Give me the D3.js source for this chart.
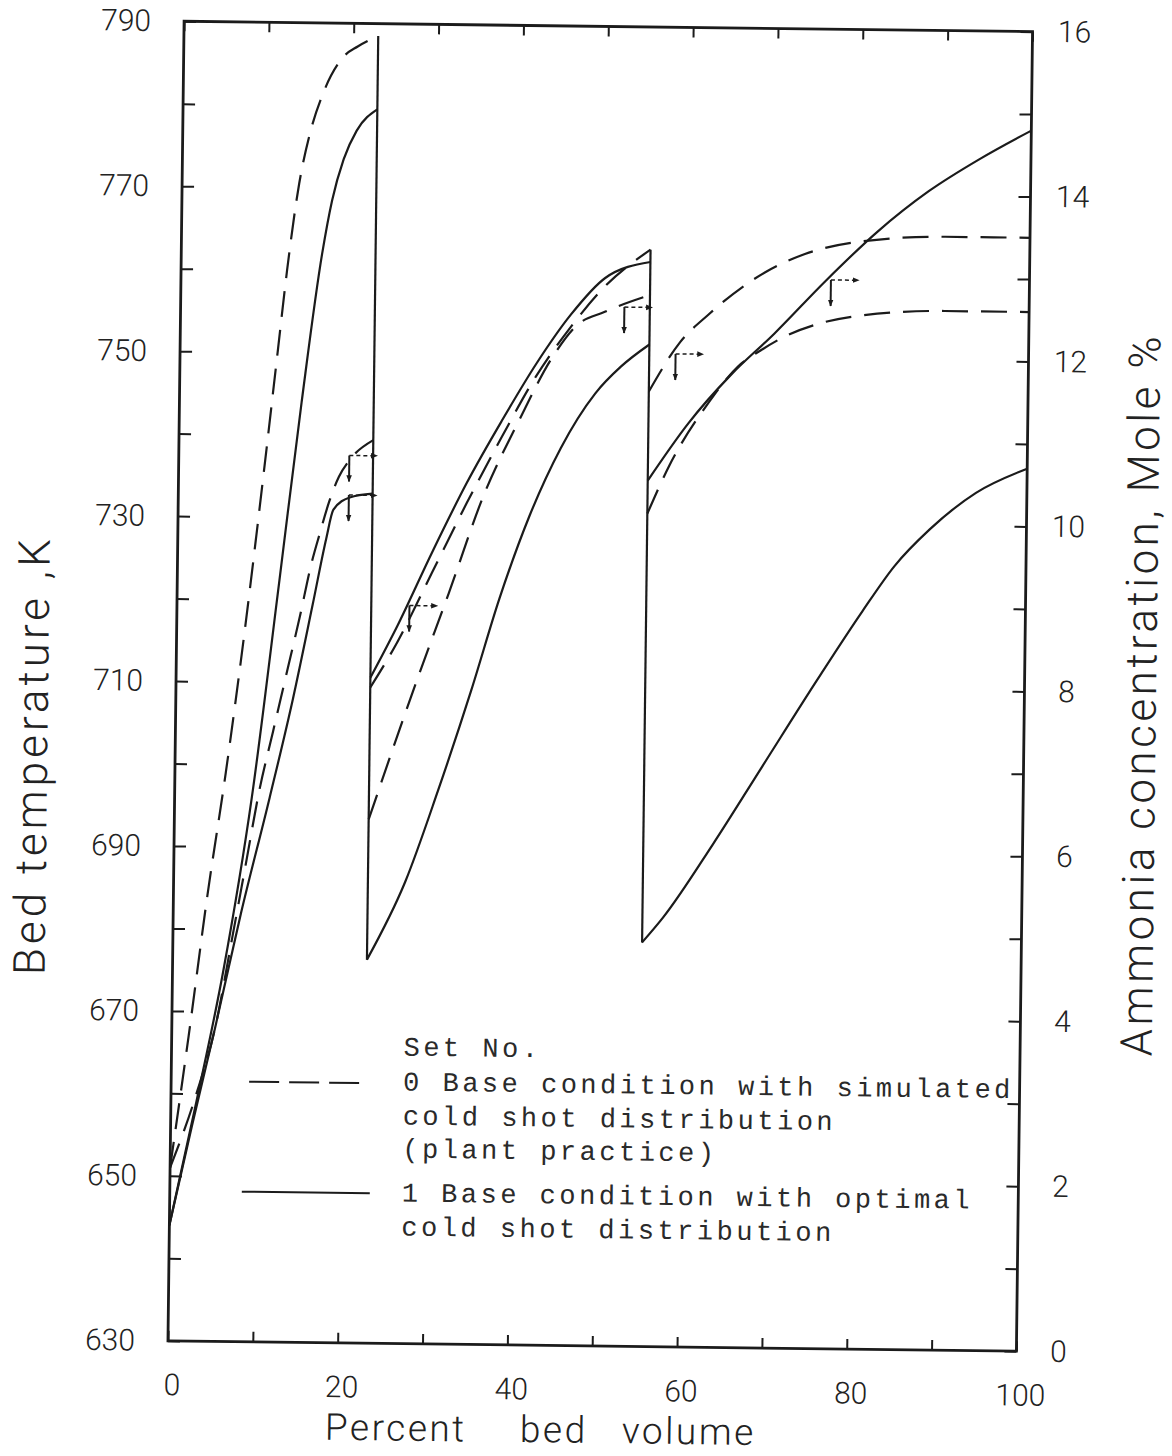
<!DOCTYPE html>
<html>
<head>
<meta charset="utf-8">
<script src="https://cdn.jsdelivr.net/npm/d3@7"></script>
<style>
  body { margin: 0; background: #fff; }
</style>
</head>
<body>
<svg id="chart" width="1172" height="1456"></svg>
<script>
// ---- data ----
// x = percent bed volume, temperature in K (left axis), concentration in mole % (right axis)
var bedEdges = [22.9, 55.3];

var xTicks = [0, 10, 20, 30, 40, 50, 60, 70, 80, 90, 100];
var tempTicks = d3.range(630, 791, 10);
var concTicks = d3.range(0, 17, 1);

// set 0 (plant practice) - dashed
var temp0Bed1 = [[0,651],[2,667],[4,684],[6,699],[8,716],[10,735],[11.5,750],[12.5,760],[13.8,770.5],[15,776.6],[16.5,781.5],[18.9,786],[20.5,787.2],[22.9,788.5]];
var temp0Bed2 = [[22.9,693.5],[28.5,710.8],[32,721],[36,733],[40,742],[44,750],[46.6,753.6],[50,755.4],[55.3,757.5]];
var temp0Bed3 = [[55.3,731],[57.8,736.8],[62.4,744.6],[65.8,749],[68.5,751],[71.3,752.7],[75,754.2],[80,755.3],[90,756],[100,756]];
var conc0Bed1 = [[0,2.1],[3,3.0],[5.1,3.8],[7,4.9],[8.5,5.8],[10,6.7],[11.5,7.4],[13,8.1],[14.5,8.8],[15.8,9.45],[16.7,9.8],[17.8,10.2],[18.9,10.5],[20.1,10.7],[22.9,10.95]];
var conc0Bed2 = [[22.9,7.95],[26,8.5],[30,9.35],[34,10.2],[38,11.0],[42,11.75],[46,12.35],[50,12.85],[55.3,13.3]];
var conc0Bed3 = [[55.3,11.58],[58.9,12.18],[62.2,12.52],[68.8,13.04],[73.5,13.27],[80,13.43],[90,13.5],[100,13.5]];

// set 1 (optimal) - solid
var temp1Bed1 = [[0,644],[3,659],[6,675],[9.1,696],[12,722],[14.4,744],[16.6,762],[17.7,768.5],[19,773.5],[20.5,777],[22.9,779.6]];
var temp1Bed2 = [[22.9,676.5],[27.3,686],[31,697],[34.8,709.3],[38,720.5],[41.4,730.5],[45,738.8],[49,745.5],[52,748.8],[55.3,751.5]];
var temp1Bed3 = [[55.3,679],[57.7,682],[63.5,691],[69.2,700.5],[75.5,711],[80.8,719.5],[84.5,725],[88.6,729.5],[94,734],[100,737]];
var conc1Bed1 = [[0,1.4],[2.5,2.6],[5.1,3.8],[8,5.2],[11.2,6.6],[13.8,7.8],[16,8.95],[17.5,9.75],[18.3,10.1],[20.2,10.25],[22.9,10.3]];
var conc1Bed2 = [[22.9,8.07],[26,8.7],[30,9.6],[34,10.45],[38,11.2],[42,11.9],[46,12.5],[50,12.95],[55.3,13.15]];
var conc1Bed3 = [[55.3,10.5],[60,11.2],[65,11.8],[70,12.3],[76,12.95],[82,13.55],[88,14.05],[94,14.45],[100,14.8]];

// little arrow marks drawn on the figure (x %, temperature K)
var arrowMarks = [[20.1,737.6],[20.1,732.8],[27.4,719.5],[52.3,756],[58.4,750.4],[76.6,759.6]];

var legendLines = [
  "Set No.",
  "0 Base condition with simulated",
  "cold shot distribution",
  "(plant practice)",
  "1 Base condition with optimal",
  "cold shot distribution"
];

// ---- layout ----
var frame = {left: 176, right: 1024.5, top: 26.4, bottom: 1346};
var tickFont = "Roboto, 'DejaVu Sans', sans-serif";
var ink = "#1b1b1b";

var svg = d3.select("#chart");
var defs = svg.append("defs");
defs.append("marker")
    .attr("id", "ah")
    .attr("viewBox", "0 0 10 10")
    .attr("refX", 9).attr("refY", 5)
    .attr("markerWidth", 7).attr("markerHeight", 7)
    .attr("markerUnits", "userSpaceOnUse")
    .attr("orient", "auto")
  .append("path")
    .attr("d", "M0,1 L10,5 L0,9 z")
    .attr("fill", ink);

// the scanned page is turned a little clockwise
var g = svg.append("g").attr("transform", "rotate(0.7,600,686)");

var x = d3.scaleLinear().domain([0, 100]).range([frame.left, frame.right]);
var yT = d3.scaleLinear().domain([630, 790]).range([frame.bottom, frame.top]);
var yC = d3.scaleLinear().domain([0, 16]).range([frame.bottom, frame.top]);

function styleAxis(sel){
  sel.select(".domain").remove();
  sel.selectAll(".tick line").attr("stroke", ink).attr("stroke-width", 2);
  sel.selectAll("text")
    .attr("font-family", tickFont)
    .attr("font-weight", 300)
    .attr("font-size", 30)
    .attr("fill", "#222");
}

// bottom axis
g.append("g")
  .attr("transform", "translate(0," + frame.bottom + ")")
  .call(d3.axisBottom(x).tickValues(xTicks).tickSize(-10).tickSizeOuter(0).tickPadding(33)
        .tickFormat(function(d){ return d % 20 ? "" : d; }))
  .call(styleAxis)
  .selectAll("text").attr("dx", 4);

// top axis (ticks only)
g.append("g")
  .attr("transform", "translate(0," + frame.top + ")")
  .call(d3.axisTop(x).tickValues(xTicks).tickSize(-10).tickSizeOuter(0).tickFormat(""))
  .call(styleAxis);

// left axis
g.append("g")
  .attr("transform", "translate(" + frame.left + ",0)")
  .call(d3.axisLeft(yT).tickValues(tempTicks).tickSize(-12).tickSizeOuter(0).tickPadding(33)
        .tickFormat(function(d){ return (d - 630) % 20 ? "" : d; }))
  .call(styleAxis);

// right axis
g.append("g")
  .attr("transform", "translate(" + frame.right + ",0)")
  .call(d3.axisRight(yC).tickValues(concTicks).tickSize(-12).tickSizeOuter(0)
        .tickFormat(function(d){ return d % 2 ? "" : d; }))
  .call(styleAxis)
  .selectAll("text").attr("x", 42).attr("text-anchor", "middle");

// frame
g.append("rect")
  .attr("x", frame.left).attr("y", frame.top)
  .attr("width", frame.right - frame.left).attr("height", frame.bottom - frame.top)
  .attr("fill", "none").attr("stroke", ink).attr("stroke-width", 2.8);

// curves
var curves = [
  {unit: "K", dashed: true,  beds: [temp0Bed1, temp0Bed2, temp0Bed3]},
  {unit: "%", dashed: true,  beds: [conc0Bed1, conc0Bed2, conc0Bed3]},
  {unit: "K", dashed: false, beds: [temp1Bed1, temp1Bed2, temp1Bed3]},
  {unit: "%", dashed: false, beds: [conc1Bed1, conc1Bed2, conc1Bed3]}
];

curves.forEach(function(c){
  var sc = c.unit === "K" ? yT : yC;
  var line = d3.line()
    .x(function(d){ return x(d[0]); })
    .y(function(d){ return sc(d[1]); })
    .curve(d3.curveMonotoneX);
  c.beds.forEach(function(bed){
    g.append("path")
      .attr("d", line(bed))
      .attr("fill", "none")
      .attr("stroke", ink)
      .attr("stroke-width", 2.2)
      .attr("stroke-dasharray", c.dashed ? "26,13" : null);
  });
});

// cold shot drops between beds
bedEdges.forEach(function(edge, i){
  var ys = [];
  curves.forEach(function(c){
    var sc = c.unit === "K" ? yT : yC;
    var a = c.beds[i], b = c.beds[i + 1];
    ys.push(sc(a[a.length - 1][1]), sc(b[0][1]));
  });
  g.append("line")
    .attr("x1", x(edge)).attr("x2", x(edge))
    .attr("y1", d3.min(ys)).attr("y2", d3.max(ys))
    .attr("stroke", ink).attr("stroke-width", 2.2);
});

// arrow marks
arrowMarks.forEach(function(m){
  var px = x(m[0]), py = yT(m[1]);
  g.append("line")
    .attr("x1", px).attr("y1", py).attr("x2", px).attr("y2", py + 26)
    .attr("stroke", ink).attr("stroke-width", 2).attr("marker-end", "url(#ah)");
  g.append("line")
    .attr("x1", px).attr("y1", py).attr("x2", px + 28).attr("y2", py)
    .attr("stroke", ink).attr("stroke-width", 1.5).attr("stroke-dasharray", "4,3")
    .attr("marker-end", "url(#ah)");
});

// legend
var legendY = [1058, 1093, 1127, 1160, 1204, 1238];
var legend = g.append("g")
  .attr("font-family", "'Liberation Mono', 'DejaVu Sans Mono', monospace")
  .attr("font-size", 27)
  .attr("letter-spacing", 3.5)
  .attr("fill", "#2a2a2a");
legendLines.forEach(function(t, i){
  legend.append("text").attr("x", 408).attr("y", legendY[i]).text(t);
});
g.append("line")
  .attr("x1", 254).attr("x2", 364).attr("y1", 1086).attr("y2", 1086)
  .attr("stroke", ink).attr("stroke-width", 2).attr("stroke-dasharray", "30,10");
g.append("line")
  .attr("x1", 248).attr("x2", 376).attr("y1", 1196).attr("y2", 1196)
  .attr("stroke", ink).attr("stroke-width", 2);

// axis titles
var xTitle = g.append("text")
  .attr("y", 1443)
  .attr("font-family", tickFont).attr("font-weight", 300)
  .attr("font-size", 37).attr("letter-spacing", 2.5)
  .attr("fill", "#222");
xTitle.append("tspan").attr("x", 334).text("Percent");
xTitle.append("tspan").attr("x", 529).text("bed");
xTitle.append("tspan").attr("x", 631).text("volume");

g.append("text")
  .attr("transform", "translate(48,762) rotate(-90)")
  .attr("text-anchor", "middle")
  .attr("font-family", tickFont).attr("font-weight", 300)
  .attr("font-size", 44).attr("letter-spacing", 4)
  .attr("fill", "#222")
  .text("Bed temperature ,K");

g.append("text")
  .attr("transform", "translate(1156,688) rotate(-90)")
  .attr("text-anchor", "middle")
  .attr("font-family", tickFont).attr("font-weight", 300)
  .attr("font-size", 44).attr("letter-spacing", 3.5)
  .attr("fill", "#222")
  .text("Ammonia concentration, Mole %");
</script>
</body>
</html>
